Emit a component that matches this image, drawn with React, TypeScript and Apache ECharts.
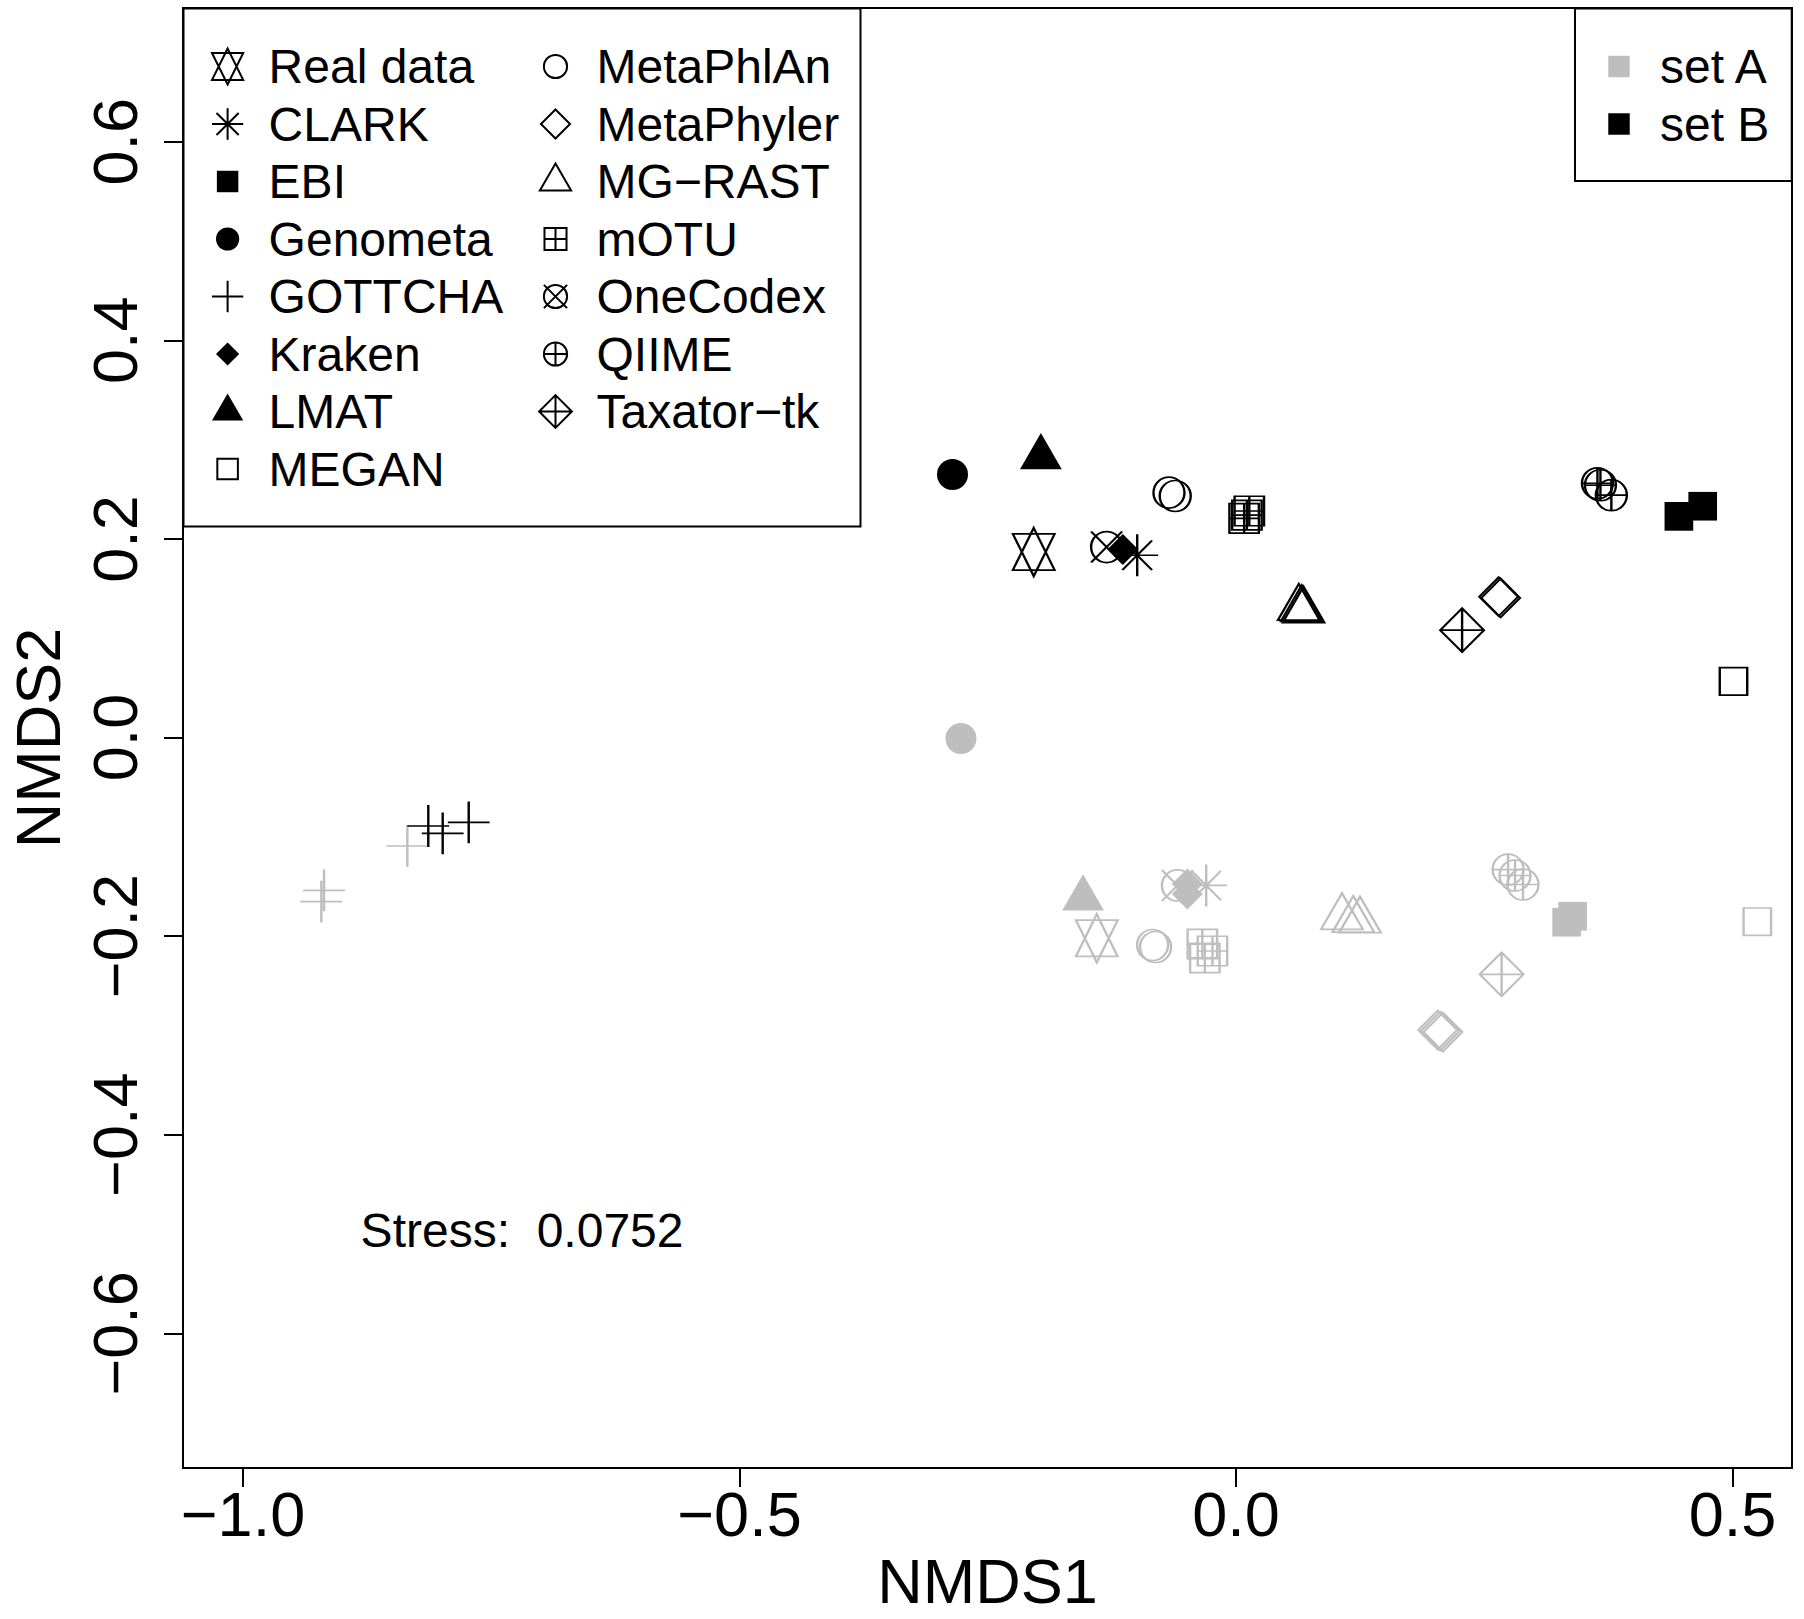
import React, { useEffect, useRef } from "react";
import * as echarts from "echarts";

// ---------- data ----------
const methodNames = [
  "Real data", "CLARK", "EBI", "Genometa", "GOTTCHA", "Kraken", "LMAT", "MEGAN",
  "MetaPhlAn", "MetaPhyler", "MG\u2212RAST", "mOTU", "OneCodex", "QIIME", "Taxator\u2212tk",
];
const setNames = ["set A", "set B"];
const xTicks = [-1.0, -0.5, 0.0, 0.5];
const yTicks = [-0.6, -0.4, -0.2, 0.0, 0.2, 0.4, 0.6];
const stressText = "Stress:  0.0752";
const stressAt = [-0.719, -0.496];

// set A (grey)
const realDataA = [[-0.1402, -0.2022]];
const clarkA = [[-0.030, -0.149]];
const ebiA = [[0.333, -0.186], [0.339, -0.180]];
const genometaA = [[-0.277, -0.001]];
const gottchaA = [[-0.8345, -0.1093], [-0.9184, -0.1539], [-0.9211, -0.1653]];
const krakenA = [[-0.049, -0.1475], [-0.049, -0.1576]];
const lmatA = [[-0.154, -0.162]];
const meganA = [[0.525, -0.1855]];
const metaphlanA = [[-0.084, -0.209], [-0.081, -0.211]];
const metaphylerA = [[0.2032, -0.2946], [0.2057, -0.2956], [0.2084, -0.2966]];
const mgrastA = [[0.1067, -0.181], [0.1181, -0.1838], [0.1249, -0.1845]];
const motuA = [[-0.0339, -0.208], [-0.0237, -0.215], [-0.0314, -0.222]];
const onecodexA = [[-0.059, -0.149]];
const qiimeA = [[0.274, -0.133], [0.281, -0.139], [0.289, -0.148]];
const taxatorA = [[0.2675, -0.2385]];

// set B (black)
const realDataB = [[-0.2037, 0.1868]];
const clarkB = [[-0.0995, 0.1835]];
const ebiB = [[0.446, 0.2227], [0.470, 0.2329]];
const genometaB = [[-0.2855, 0.2648]];
const gottchaB = [[-0.8134, -0.0891], [-0.7989, -0.0965], [-0.7727, -0.0854]];
const krakenB = [[-0.114, 0.1893]];
const lmatB = [[-0.1965, 0.2824]];
const meganB = [[0.501, 0.0565]];
const metaphlanB = [[-0.0675, 0.2466], [-0.0612, 0.2432]];
const metaphylerB = [[0.2645, 0.1418], [0.2665, 0.1405]];
const mgrastB = [[0.0632, 0.1304], [0.0662, 0.129], [0.068, 0.1277]];
const motuB = [[0.0134, 0.2281], [0.0082, 0.2207], [0.011, 0.224]];
const onecodexB = [[-0.1303, 0.1918]];
const qiimeB = [[0.364, 0.256], [0.367, 0.254], [0.378, 0.244]];
const taxatorB = [[0.2277, 0.1081]];

// ---------- styling ----------
const FONT = "Liberation Sans";
const GRAY = "#BEBEBE";
const BLACK = "#000000";
const CLEAR = "rgba(0,0,0,0)";
const LEG_S = 1.16;
const PLOT_S = 1.55;
const LEG_W = 72;
const LEG_H = 50;
const FX = LEG_W / 2 / LEG_S;
const FY = LEG_H / 2 / LEG_S;
const pad = `M${-FX} ${-FY} L${-FX} ${-FY} M${FX} ${FY} L${FX} ${FY} `;
const circ = (r: number) =>
  `M${-r} 0 A${r} ${r} 0 1 0 ${r} 0 A${r} ${r} 0 1 0 ${-r} 0 Z`;
const TRI = "M0 -15.55 L13.47 7.78 L-13.47 7.78 Z";
const SYM: Record<string, string> = {
  square0: "M-8.86 -8.86 L8.86 -8.86 L8.86 8.86 L-8.86 8.86 Z",
  circle1: circ(10),
  tri2: TRI,
  plus3: "M-13.5 0 L13.5 0 M0 -13.5 L0 13.5",
  diamond5: "M0 -12.53 L12.53 0 L0 12.53 L-12.53 0 Z",
  aster8: "M-13.5 0 L13.5 0 M0 -13.5 L0 13.5 M-9.55 -9.55 L9.55 9.55 M-9.55 9.55 L9.55 -9.55",
  dplus9: "M0 -14.14 L14.14 0 L0 14.14 L-14.14 0 Z M-14.14 0 L14.14 0 M0 -14.14 L0 14.14",
  cplus10: circ(10) + " M-10 0 L10 0 M0 -10 L0 10",
  star11: "M0 -15.55 L13.47 11.67 L-13.47 11.67 Z M0 15.55 L13.47 -11.67 L-13.47 -11.67 Z",
  splus12: "M-9.5 -9.5 L9.5 -9.5 L9.5 9.5 L-9.5 9.5 Z M-9.5 0 L9.5 0 M0 -9.5 L0 9.5",
  ccross13: circ(10) + " M-10 -10 L10 10 M-10 10 L10 -10",
  fsquare15: "M-9.25 -9.25 L9.25 -9.25 L9.25 9.25 L-9.25 9.25 Z",
  fcircle16: circ(10),
  ftri17: TRI,
  fdiamond18: "M0 -10 L10 0 L0 10 L-10 0 Z",
};
const symPath = (k: string) => "path://" + pad + SYM[k];

const methodSyms = [
  "star11", "aster8", "fsquare15", "fcircle16", "plus3", "fdiamond18", "ftri17", "square0",
  "circle1", "diamond5", "tri2", "splus12", "ccross13", "cplus10", "dplus9",
];
const setAData = [realDataA, clarkA, ebiA, genometaA, gottchaA, krakenA, lmatA, meganA,
  metaphlanA, metaphylerA, mgrastA, motuA, onecodexA, qiimeA, taxatorA];
const setBData = [realDataB, clarkB, ebiB, genometaB, gottchaB, krakenB, lmatB, meganB,
  metaphlanB, metaphylerB, mgrastB, motuB, onecodexB, qiimeB, taxatorB];

const isFilled = (k: string) => k.startsWith("f");
const styleFor = (k: string, col: string) => ({
  color: isFilled(k) ? col : "none",
  borderColor: col,
  borderWidth: isFilled(k) ? 0 : 2,
  opacity: 1,
});
// legend icons: every icon has both a fill and a 2px stroke (one of them clear),
// so every legend row gets the same height
const legendStyleFor = (k: string, col: string) => ({
  color: isFilled(k) ? col : CLEAR,
  borderColor: isFilled(k) ? CLEAR : col,
  borderWidth: 2,
  opacity: 1,
});
const fmt = (v: number) => (v < 0 ? "\u2212" : "") + Math.abs(v).toFixed(1);

export default function App() {
  const ref = useRef<HTMLDivElement>(null);
  useEffect(() => {
    if (!ref.current) return;
    const chart = echarts.init(ref.current, null, { renderer: "svg" });
    const symSize = [2 * FX * PLOT_S, 2 * FY * PLOT_S];

    const series: any[] = methodNames.map((name, i) => {
      const k = methodSyms[i];
      return {
        type: "scatter",
        name,
        symbol: symPath(k),
        symbolSize: symSize,
        itemStyle: styleFor(k, BLACK),
        silent: true,
        emphasis: { disabled: true },
        data: [
          ...setAData[i].map((v) => ({ value: v, itemStyle: styleFor(k, GRAY) })),
          ...setBData[i].map((v) => ({ value: v, itemStyle: styleFor(k, BLACK) })),
        ],
      };
    });
    setNames.forEach((name, i) => {
      series.push({
        type: "scatter",
        name,
        symbol: symPath("fsquare15"),
        symbolSize: symSize,
        itemStyle: styleFor("fsquare15", i === 0 ? GRAY : BLACK),
        data: [],
      });
    });
    series.push({
      type: "scatter",
      name: "stress",
      data: [stressAt],
      symbolSize: 1,
      itemStyle: { color: CLEAR, opacity: 1 },
      silent: true,
      label: {
        show: true,
        position: "inside",
        formatter: stressText,
        fontSize: 48,
        fontFamily: FONT,
        color: BLACK,
        opacity: 1,
      },
    });

    const legendBase = {
      orient: "vertical",
      itemWidth: LEG_W,
      itemHeight: LEG_H,
      itemGap: 5.5,
      padding: 0,
      selectedMode: false,
      symbolKeepAspect: true,
      textStyle: { fontSize: 48, lineHeight: 48, fontFamily: FONT, color: BLACK },
    };
    const legendItem = (name: string, k: string, col: string) => ({
      name,
      icon: symPath(k),
      itemStyle: legendStyleFor(k, col),
    });

    const labelStyle = { fontSize: 63, fontFamily: FONT, color: BLACK };

    chart.setOption({
      animation: false,
      backgroundColor: "#ffffff",
      grid: {
        left: 183,
        right: 12,
        top: 8,
        bottom: 151,
        outerBoundsMode: "none",
        containLabel: false,
        show: true,
        borderColor: BLACK,
        borderWidth: 2,
        backgroundColor: "transparent",
      },
      xAxis: {
        type: "value",
        min: (183 - 1236) / 993,
        max: (1792 - 1236) / 993,
        name: "NMDS1",
        nameLocation: "middle",
        nameGap: 90,
        nameTextStyle: { ...labelStyle, lineHeight: 46 },
        axisLine: { show: false, onZero: false },
        splitLine: { show: false },
        axisTick: {
          show: true,
          customValues: xTicks,
          length: 19,
          lineStyle: { color: BLACK, width: 2 },
        },
        axisLabel: { customValues: xTicks, formatter: fmt, margin: 14, ...labelStyle },
      },
      yAxis: {
        type: "value",
        min: (737.5 - 1468) / 993,
        max: (737.5 - 8) / 993,
        name: "NMDS2",
        nameLocation: "middle",
        nameGap: 114,
        nameTextStyle: labelStyle,
        axisLine: { show: false, onZero: false },
        splitLine: { show: false },
        axisTick: {
          show: true,
          customValues: yTicks,
          length: 19,
          lineStyle: { color: BLACK, width: 2 },
        },
        axisLabel: { customValues: yTicks, formatter: fmt, margin: 37, rotate: 90, ...labelStyle },
      },
      legend: [
        {
          ...legendBase,
          left: 190.6,
          top: 40.5,
          data: methodNames.slice(0, 8).map((n, i) => legendItem(n, methodSyms[i], BLACK)),
        },
        {
          ...legendBase,
          left: 518.5,
          top: 40.5,
          data: methodNames.slice(8).map((n, i) => legendItem(n, methodSyms[i + 8], BLACK)),
        },
        {
          ...legendBase,
          left: 1582,
          top: 40.5,
          data: setNames.map((n, i) => legendItem(n, "fsquare15", i === 0 ? GRAY : BLACK)),
        },
      ],
      graphic: [
        {
          type: "rect",
          silent: true,
          z: 10,
          shape: { x: 183.5, y: 8.5, width: 677, height: 518 },
          style: { fill: "none", stroke: BLACK, lineWidth: 2 },
        },
        {
          type: "rect",
          silent: true,
          z: 10,
          shape: { x: 1575, y: 8.5, width: 216.7, height: 172.5 },
          style: { fill: "none", stroke: BLACK, lineWidth: 2 },
        },
      ],
      series,
    });
    return () => chart.dispose();
  }, []);
  return (
    <div
      ref={ref}
      style={{ position: "absolute", left: 0, top: 0, width: 1804, height: 1619 }}
    />
  );
}
